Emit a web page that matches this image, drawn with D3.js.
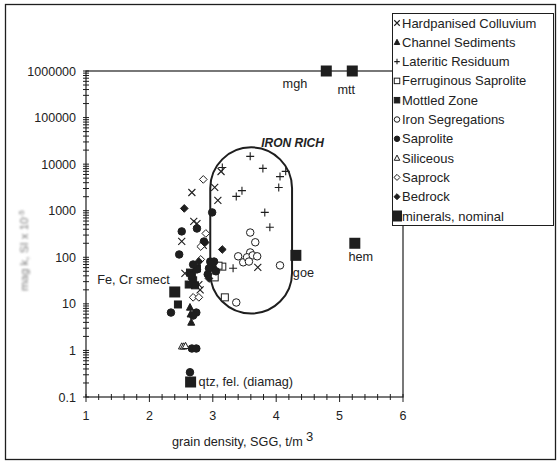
<!DOCTYPE html>
<html><head><meta charset="utf-8">
<script src="https://cdn.jsdelivr.net/npm/d3@7"></script>
<style>body{margin:0;background:#fff}svg{display:block}text{font-family:"Liberation Sans",Arial,sans-serif;fill:#222}</style>
</head><body><svg id="c" width="559" height="463"></svg>
<script>
// ---- data (x = grain density t/m3, y = mag k SI x 10^-5) ----
const hardpanisedColluvium = [[2.67,2460],[3.03,3170],[3.08,1660],[3.13,6950],[2.70,590],[2.75,530],[2.51,220],[2.85,180],[2.56,45],[2.80,20],[2.78,26],[3.71,61]];
const channelSediments = [[2.64,8.4],[2.65,6.0],[2.66,4.0]];
const lateriticResiduum = [[3.59,14700],[3.79,8100],[4.15,7000],[4.06,5400],[4.04,3160],[3.46,2700],[3.37,2030],[3.82,920],[3.90,440],[3.32,58],[3.15,8500]];
const ferruginousSaprolite = [[3.19,13.8],[3.03,37],[3.15,63],[3.09,66]];
const mottledZone = [[2.45,9.7],[2.64,47],[2.69,32],[2.62,26],[2.72,25],[2.75,58],[2.67,40]];
const ironSegregations = [[3.59,340],[3.67,210],[3.59,127],[3.40,105],[3.48,78],[3.54,100],[3.63,110],[3.70,105],[3.57,81],[4.06,67],[3.37,10.7]];
const saprolite = [[2.99,920],[2.51,360],[2.75,415],[2.47,115],[2.86,218],[2.34,6.5],[2.74,6.5],[2.69,5.6],[2.67,1.1],[2.74,1.1],[2.64,0.34],[2.75,55],[2.69,70],[2.96,81],[3.00,60],[3.05,50],[2.92,43],[3.02,81],[2.98,70],[2.94,58]];
const siliceous = [[2.51,1.22],[2.54,1.22],[2.57,1.25]];
const saprock = [[2.85,4700],[2.89,325],[2.81,90],[2.69,13.8],[2.78,13.8],[2.81,170]];
const bedrock = [[2.55,1120],[3.15,147],[2.88,208],[2.94,35],[2.78,81]];
const minerals = [
  {name:"mgh", x:4.79, y:1000000},
  {name:"mtt", x:5.20, y:1000000},
  {name:"hem", x:5.24, y:200},
  {name:"goe", x:4.31, y:110},
  {name:"qtz, fel. (diamag)", x:2.65, y:0.21},
  {name:"Fe, Cr smect", x:2.40, y:18}
];
const ironRichX = [2.96, 4.25];
const ironRichY = [6.2, 22900];
const xTicks = [1,2,3,4,5,6];
const yTicks = [0.1,1,10,100,1000,10000,100000,1000000];
const seriesNames = ["Hardpanised Colluvium","Channel Sediments","Lateritic Residuum","Ferruginous Saprolite","Mottled Zone","Iron Segregations","Saprolite","Siliceous","Saprock","Bedrock","minerals, nominal"];

// ---- drawing ----
const svg = d3.select("#c");
const ink = "#1e1e1e";
const x = d3.scaleLinear().domain([1,6]).range([86,403]);
const y = d3.scaleLog().domain([0.1,1000000]).range([397,71]);

svg.append("defs").append("filter").attr("id","blur")
  .append("feGaussianBlur").attr("stdDeviation",0.8);

// outer frame
svg.append("rect").attr("x",5.5).attr("y",4.5).attr("width",550).attr("height",455)
  .attr("fill","none").attr("stroke",ink).attr("stroke-width",1.3);

// plot frame
svg.append("rect").attr("x",x(1)).attr("y",y(1000000)).attr("width",x(6)-x(1)).attr("height",y(0.1)-y(1000000))
  .attr("fill","none").attr("stroke",ink).attr("stroke-width",1.2);

// axes ticks
const g = svg.append("g").attr("stroke",ink).attr("stroke-width",1);
const xMinor = d3.range(1,6.001,0.2);
g.selectAll("line.xm").data(xMinor).join("line")
  .attr("x1",d=>x(d)).attr("x2",d=>x(d))
  .attr("y1",y(0.1)-3).attr("y2",d=>Math.abs(d-Math.round(d))<1e-6 ? y(0.1)+5 : y(0.1)+3);
const yMinor = [];
for (let e=-1;e<6;e++) for (let m=1;m<10;m++) yMinor.push(m*Math.pow(10,e));
yMinor.push(1000000);
g.selectAll("line.ym").data(yMinor).join("line")
  .attr("y1",d=>y(d)).attr("y2",d=>y(d))
  .attr("x1",x(1)-3).attr("x2",x(1)+3);

svg.selectAll("text.xt").data(xTicks).join("text")
  .attr("x",d=>x(d)).attr("y",y(0.1)+23).attr("text-anchor","middle")
  .attr("font-size",12.5).text(d=>d);
svg.selectAll("text.yt").data(yTicks).join("text")
  .attr("x",x(1)-10).attr("y",d=>y(d)+4.5).attr("text-anchor","end")
  .attr("font-size",12.5).text(d=>d===0.1?"0.1":d3.format("d")(d));

// axis titles
const xt = svg.append("text").attr("x",172).attr("y",446).attr("font-size",12.7);
xt.append("tspan").text("grain density, SGG, t/m");
xt.append("tspan").attr("dx",3).attr("dy",-5).attr("font-size",13).text("3");
const yt = svg.append("text").attr("transform","translate(28,291) rotate(-90)")
  .attr("font-size",11.5).attr("filter","url(#blur)").style("fill","#7a7a7a");
yt.append("tspan").text("mag k, SI x 10");
yt.append("tspan").attr("dy",-4).attr("font-size",8).text("-5");

// iron rich envelope
const L = x(ironRichX[0]), R = x(ironRichX[1]), T = y(ironRichY[1]), B = y(ironRichY[0]);
const r = (R-L)/2;
const path = d3.path();
path.moveTo(L, T+r);
path.arc(L+r, T+r, r, Math.PI, 0);
path.lineTo(R, B-r);
path.arc(L+r, B-r, r, 0, Math.PI);
path.closePath();
svg.append("path").attr("d",path.toString()).attr("fill","none").attr("stroke",ink).attr("stroke-width",2);
svg.append("text").attr("x",L+r+10).attr("y",T-0.5).attr("text-anchor","start")
  .attr("font-size",12).attr("font-weight","bold").attr("font-style","italic").text("IRON RICH");

// marker painters
function mark(sel, kind, s) {
  const h = s/2;
  if (kind==="x") return sel.append("path").attr("d",`M${-h},${-h}L${h},${h}M${-h},${h}L${h},${-h}`).attr("stroke",ink).attr("stroke-width",1.1).attr("fill","none");
  if (kind==="+") return sel.append("path").attr("d",`M${-h},0L${h},0M0,${-h}L0,${h}`).attr("stroke",ink).attr("stroke-width",1.1).attr("fill","none");
  if (kind==="tri"||kind==="triO") return sel.append("path").attr("d",`M0,${-h*1.1}L${h},${h*0.8}L${-h},${h*0.8}Z`).attr("fill",kind==="tri"?ink:"#fff").attr("stroke",ink).attr("stroke-width",1);
  if (kind==="sq"||kind==="sqO") return sel.append("rect").attr("x",-h).attr("y",-h).attr("width",s).attr("height",s).attr("fill",kind==="sq"?ink:"#fff").attr("stroke",ink).attr("stroke-width",1);
  if (kind==="ci"||kind==="ciO") return sel.append("circle").attr("r",h).attr("fill",kind==="ci"?ink:"#fff").attr("stroke",ink).attr("stroke-width",1);
  if (kind==="di"||kind==="diO") return sel.append("path").attr("d",`M0,${-h*1.1}L${h*1.1},0L0,${h*1.1}L${-h*1.1},0Z`).attr("fill",kind==="di"?ink:"#fff").attr("stroke",ink).attr("stroke-width",1);
}
const series = [
  [hardpanisedColluvium,"x",7],
  [channelSediments,"tri",7],
  [lateriticResiduum,"+",8],
  [ferruginousSaprolite,"sqO",7],
  [mottledZone,"sq",7],
  [ironSegregations,"ciO",7.5],
  [saprolite,"ci",7.5],
  [siliceous,"triO",6.5],
  [saprock,"diO",7],
  [bedrock,"di",7]
];
const pts = svg.append("g");
series.forEach(([data,kind,s])=>{
  data.forEach(d=>{
    const gg = pts.append("g").attr("transform",`translate(${x(d[0])},${y(d[1])})`);
    mark(gg,kind,s);
  });
});

// minerals
const labelOff = {"mgh":[-19,17,"end"],"mtt":[-6,23,"middle"],"hem":[6,18,"middle"],"goe":[-3,22,"start"],"qtz, fel. (diamag)":[8,4,"start"],"Fe, Cr smect":[-5,-8,"end"]};
minerals.forEach(m=>{
  const px = x(m.x), py = y(m.y);
  svg.append("rect").attr("x",px-5.5).attr("y",py-5.5).attr("width",11).attr("height",11).attr("fill",ink);
  const o = labelOff[m.name];
  svg.append("text").attr("x",px+o[0]).attr("y",py+o[1]).attr("text-anchor",o[2]).attr("font-size",12.7).text(m.name);
});

// legend
const lg = svg.append("g");
lg.append("rect").attr("x",392.5).attr("y",13.5).attr("width",161).attr("height",212).attr("fill","#fff").attr("stroke",ink).attr("stroke-width",1);
const kinds = ["x","tri","+","sqO","sq","ciO","ci","triO","diO","di","big"];
seriesNames.forEach((n,i)=>{
  const cy = 23 + i*19.3;
  const gg = lg.append("g").attr("transform",`translate(397,${cy})`);
  if (kinds[i]==="big") gg.append("rect").attr("x",-4).attr("y",-5.5).attr("width",9).attr("height",11).attr("fill",ink);
  else mark(gg,kinds[i],5.5);
  lg.append("text").attr("x",402).attr("y",cy+4.5).attr("font-size",13).text(n);
});
</script></body></html>
